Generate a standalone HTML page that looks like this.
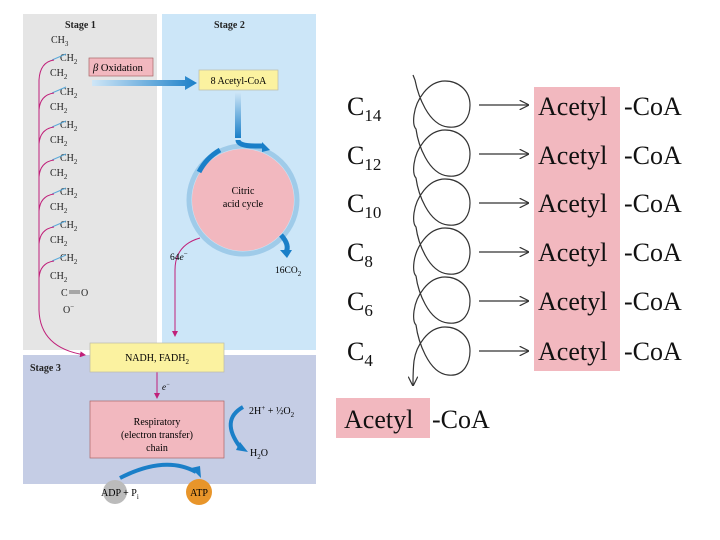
<!DOCTYPE html>
<html><head><meta charset="utf-8"><style>
body{margin:0;background:#fff;}
svg{display:block;font-family:"Liberation Serif",serif;}
</style></head><body>
<svg width="720" height="540" viewBox="0 0 720 540" xmlns="http://www.w3.org/2000/svg">
<defs>
<linearGradient id="bg1" x1="0" x2="1"><stop offset="0" stop-color="#cfe6f7"/><stop offset="1" stop-color="#1a7fc8"/></linearGradient>
<linearGradient id="bg2" x1="0" y1="0" x2="0" y2="1"><stop offset="0" stop-color="#cfe6f7"/><stop offset="1" stop-color="#1a7fc8"/></linearGradient>
<marker id="ah" markerWidth="8" markerHeight="8" refX="7" refY="4" orient="auto"><path d="M0,0 L8,4 L0,8" fill="none" stroke="#333" stroke-width="1"/></marker>
<marker id="mh" markerWidth="6" markerHeight="6" refX="5" refY="3" orient="auto"><path d="M0,0 L6,3 L0,6z" fill="#c0207a"/></marker>
</defs>
<rect x="23" y="14" width="134" height="336" fill="#e5e5e5"/>
<rect x="162" y="14" width="154" height="336" fill="#cce6f8"/>
<rect x="23" y="355" width="293" height="129" fill="#c5cde5"/>
<g font-size="10" font-weight="bold" fill="#222">
<text x="65" y="28">Stage 1</text><text x="214" y="28">Stage 2</text><text x="30" y="371">Stage 3</text></g>
<g font-size="10" fill="#222">
<text x="51" y="43">CH<tspan font-size="7" dy="3">3</tspan></text>
<text x="60" y="61">CH<tspan font-size="7" dy="3">2</tspan></text>
<text x="50" y="76">CH<tspan font-size="7" dy="3">2</tspan></text>
<text x="60" y="95">CH<tspan font-size="7" dy="3">2</tspan></text>
<text x="50" y="110">CH<tspan font-size="7" dy="3">2</tspan></text>
<text x="60" y="128">CH<tspan font-size="7" dy="3">2</tspan></text>
<text x="50" y="143">CH<tspan font-size="7" dy="3">2</tspan></text>
<text x="60" y="161">CH<tspan font-size="7" dy="3">2</tspan></text>
<text x="50" y="176">CH<tspan font-size="7" dy="3">2</tspan></text>
<text x="60" y="195">CH<tspan font-size="7" dy="3">2</tspan></text>
<text x="50" y="210">CH<tspan font-size="7" dy="3">2</tspan></text>
<text x="60" y="228">CH<tspan font-size="7" dy="3">2</tspan></text>
<text x="50" y="243">CH<tspan font-size="7" dy="3">2</tspan></text>
<text x="60" y="261">CH<tspan font-size="7" dy="3">2</tspan></text>
<text x="50" y="279">CH<tspan font-size="7" dy="3">2</tspan></text>
<text x="61" y="296">C</text><text x="81" y="296">O</text>
<text x="63" y="313">O<tspan font-size="7" dy="-4">−</tspan></text>
</g>
<line x1="69" y1="293" x2="80" y2="293" stroke="#333" stroke-width="0.7"/><line x1="69" y1="291" x2="80" y2="291" stroke="#333" stroke-width="0.7"/>
<g stroke="#5aa9d9" stroke-width="1">
<line x1="52" y1="60" x2="66" y2="54"/><line x1="52" y1="93" x2="66" y2="87"/><line x1="52" y1="127" x2="66" y2="121"/><line x1="52" y1="160" x2="66" y2="154"/><line x1="52" y1="194" x2="66" y2="188"/><line x1="52" y1="227" x2="66" y2="221"/><line x1="52" y1="261" x2="66" y2="255"/></g>
<g stroke="#c0207a" stroke-width="1" fill="none">
<path d="M54,60 Q40,62 39,80 L39,310 Q40,348 85,355" marker-end="url(#mh)"/>
<path d="M54,93 Q40,95 39,110"/><path d="M54,127 Q40,129 39,144"/><path d="M54,160 Q40,162 39,177"/><path d="M54,194 Q40,196 39,211"/><path d="M54,227 Q40,229 39,244"/><path d="M54,261 Q40,263 39,278"/>
<path d="M200,238 Q175,245 175,270 L175,336" marker-end="url(#mh)"/>
<line x1="157" y1="372" x2="157" y2="398" marker-end="url(#mh)"/>
</g>
<rect x="89" y="58" width="64" height="18" fill="#f2b8bf" stroke="#a66" stroke-width="0.7"/>
<text x="93" y="71" font-size="10.5"><tspan font-style="italic">β</tspan> Oxidation</text>
<path d="M92,80 L185,80 L185,76 L197,83 L185,90 L185,86 L92,86z" fill="url(#bg1)"/>
<rect x="199" y="70" width="79" height="20" fill="#fbf2a0" stroke="#bba" stroke-width="0.7"/>
<text x="238.5" y="84" font-size="10" text-anchor="middle">8 Acetyl-CoA</text>
<rect x="235" y="92" width="6" height="46" fill="url(#bg2)"/>
<circle cx="243" cy="200" r="54" fill="none" stroke="#9fcbe9" stroke-width="5"/>
<circle cx="243" cy="200" r="51" fill="#f2b8bf"/>
<path d="M199,172 A54,54 0 0 1 220,150" stroke="#1a7fc8" stroke-width="5" fill="none"/>
<path d="M238,140 Q238,146 255,146 L262,146" stroke="#1a7fc8" stroke-width="5" fill="none"/>
<path d="M270,150 L262,142 L262,152z" fill="#1a7fc8"/>
<path d="M281,235 Q290,245 286,252" stroke="#1a7fc8" stroke-width="5" fill="none"/>
<path d="M280,250 L292,250 L287,258z" fill="#1a7fc8"/>
<text x="243" y="194" font-size="10" text-anchor="middle">Citric</text>
<text x="243" y="207" font-size="10" text-anchor="middle">acid cycle</text>
<text x="170" y="260" font-size="9.5">64<tspan font-style="italic">e</tspan><tspan font-size="7" dy="-4">−</tspan></text>
<text x="275" y="273" font-size="9.5">16CO<tspan font-size="7" dy="3">2</tspan></text>
<rect x="90" y="343" width="134" height="29" fill="#fbf2a0" stroke="#bba" stroke-width="0.7"/>
<text x="157" y="361" font-size="10" text-anchor="middle">NADH, FADH<tspan font-size="7" dy="3">2</tspan></text>
<text x="162" y="390" font-size="9" font-style="italic">e<tspan font-size="6" dy="-4">−</tspan></text>
<rect x="90" y="401" width="134" height="57" fill="#f2b8bf" stroke="#a66" stroke-width="0.7"/>
<g font-size="10" text-anchor="middle"><text x="157" y="425">Respiratory</text><text x="157" y="438">(electron transfer)</text><text x="157" y="451">chain</text></g>
<text x="249" y="414" font-size="10">2H<tspan font-size="7" dy="-4">+</tspan><tspan dy="4"> + ½O</tspan><tspan font-size="7" dy="3">2</tspan></text>
<path d="M243,407 Q220,420 240,447" stroke="#1a7fc8" stroke-width="4" fill="none"/>
<path d="M236,450 L248,452 L240,442z" fill="#1a7fc8"/>
<text x="250" y="456" font-size="10">H<tspan font-size="7" dy="3">2</tspan><tspan dy="-3">O</tspan></text>
<path d="M120,478 Q165,455 196,472" stroke="#1a7fc8" stroke-width="4" fill="none"/>
<path d="M191,468 L201,478 L200,466z" fill="#1a7fc8"/>
<circle cx="115" cy="492" r="12" fill="#bbb"/>
<circle cx="199" cy="492" r="13" fill="#e8952a"/>
<text x="101" y="496" font-size="10">ADP + P<tspan font-size="7" dy="3">i</tspan></text>
<text x="199" y="496" font-size="10" text-anchor="middle">ATP</text>
<rect x="534" y="87" width="86" height="284" fill="#f2b8bf"/>
<rect x="336" y="398" width="94" height="40" fill="#f2b8bf"/>
<g font-size="26" fill="#111">
<text x="347" y="115">C<tspan font-size="17" dy="6">14</tspan></text>
<text x="347" y="164">C<tspan font-size="17" dy="6">12</tspan></text>
<text x="347" y="212">C<tspan font-size="17" dy="6">10</tspan></text>
<text x="347" y="261">C<tspan font-size="17" dy="6">8</tspan></text>
<text x="347" y="310">C<tspan font-size="17" dy="6">6</tspan></text>
<text x="347" y="360">C<tspan font-size="17" dy="6">4</tspan></text>
<text x="538" y="115">Acetyl</text><text x="624" y="115">-CoA</text>
<text x="538" y="164">Acetyl</text><text x="624" y="164">-CoA</text>
<text x="538" y="212">Acetyl</text><text x="624" y="212">-CoA</text>
<text x="538" y="261">Acetyl</text><text x="624" y="261">-CoA</text>
<text x="538" y="310">Acetyl</text><text x="624" y="310">-CoA</text>
<text x="538" y="360">Acetyl</text><text x="624" y="360">-CoA</text>
<text x="344" y="428">Acetyl</text><text x="432" y="428">-CoA</text>
</g>
<g stroke="#333" stroke-width="1.2" fill="none">
<path d="M413,75 L415,80
C418,95 428,125 448,127 C465,129 470,115 470,105 C470,90 458,81 445,81 C428,81 416,100 414,115 C413,123 414,127 416,129
C418,144 428,174 448,176 C465,178 470,164 470,154 C470,139 458,130 445,130 C428,130 416,149 414,164 C413,172 414,176 416,178
C418,193 428,223 448,225 C465,227 470,213 470,203 C470,188 458,179 445,179 C428,179 416,198 414,213 C413,221 414,225 416,227
C418,242 428,272 448,274 C465,276 470,262 470,252 C470,237 458,228 445,228 C428,228 416,247 414,262 C413,270 414,274 416,276
C418,291 428,321 448,323 C465,325 470,311 470,301 C470,286 458,277 445,277 C428,277 416,296 414,311 C413,319 414,323 416,325
C418,340 428,373 448,375 C465,377 470,361 470,351 C470,336 458,327 445,327 C428,327 416,346 414,361 C413,370 413,378 413,385" marker-end="url(#ah)"/>
<line x1="479" y1="105" x2="528" y2="105" marker-end="url(#ah)"/>
<line x1="479" y1="154" x2="528" y2="154" marker-end="url(#ah)"/>
<line x1="479" y1="203" x2="528" y2="203" marker-end="url(#ah)"/>
<line x1="479" y1="252" x2="528" y2="252" marker-end="url(#ah)"/>
<line x1="479" y1="301" x2="528" y2="301" marker-end="url(#ah)"/>
<line x1="479" y1="351" x2="528" y2="351" marker-end="url(#ah)"/>
</g>
</svg>
</body></html>
